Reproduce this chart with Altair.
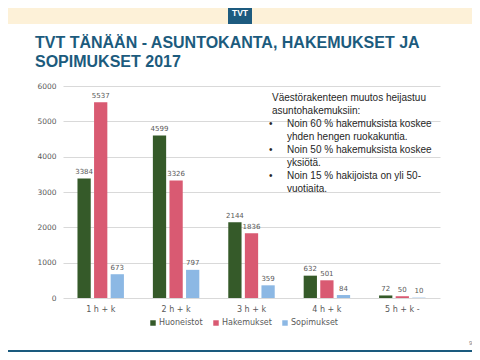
import altair as alt
import pandas as pd

categories = ["1 h + k", "2 h + k", "3 h + k", "4 h + k", "5 h + k -"]
series = ["Huoneistot", "Hakemukset", "Sopimukset"]
huoneistot = [3384, 4599, 2144, 632, 72]
hakemukset = [5537, 3326, 1836, 501, 50]
sopimukset = [673, 797, 359, 84, 10]
colors = ["#355A29", "#D95A72", "#8CB8E4"]
y_ticks = [0, 1000, 2000, 3000, 4000, 5000, 6000]

title_lines = ["TVT TÄNÄÄN - ASUNTOKANTA, HAKEMUKSET JA", "SOPIMUKSET 2017"]
intro_lines = ["Väestörakenteen muutos heijastuu", "asuntohakemuksiin:"]
bullet_lines = ["Noin 60 % hakemuksista koskee", "yhden hengen ruokakuntia.",
                "Noin 50 % hakemuksista koskee", "yksiötä.",
                "Noin 15 % hakijoista on yli 50-", "vuotiaita."]

rows = []
for s, vals in zip(series, [huoneistot, hakemukset, sopimukset]):
    for c, v in zip(categories, vals):
        rows.append({"Huoneisto": c, "Sarja": s, "Määrä": v})
df = pd.DataFrame(rows)

x_enc = alt.X("Huoneisto:N", sort=categories, title=None,
              scale=alt.Scale(paddingInner=0.34, paddingOuter=0.17),
              axis=alt.Axis(labelAngle=0, domain=False, ticks=False, labelPadding=7,
                            labelFont="DejaVu Sans", labelFontSize=8, labelColor="#595959"))
xo_enc = alt.XOffset("Sarja:N", sort=series, scale=alt.Scale(paddingInner=0.2, paddingOuter=0.1))
y_enc = alt.Y("Määrä:Q", title=None, scale=alt.Scale(domain=[0, 6000], nice=False),
              axis=alt.Axis(values=y_ticks, format="d", labelOverlap=False, domain=False,
                            ticks=False, labelPadding=7,
                            grid=True, gridColor="#D9D9D9", gridWidth=1,
                            labelFont="DejaVu Sans", labelFontSize=7.5, labelColor="#595959"))

base = alt.Chart(df)
bars = base.mark_bar().encode(
    x=x_enc, xOffset=xo_enc, y=y_enc,
    color=alt.Color("Sarja:N", sort=series, title=None,
                    scale=alt.Scale(domain=series, range=colors),
                    legend=alt.Legend(orient="none", legendX=86, legendY=233, direction="horizontal",
                                      symbolType="square", symbolSize=30, symbolStrokeWidth=0,
                                      labelFont="DejaVu Sans", labelFontSize=8, labelColor="#595959",
                                      columnPadding=9, labelOffset=2, title=None)),
)
labels = base.mark_text(baseline="alphabetic", dy=-4.5, font="DejaVu Sans", fontSize=7,
                        color="#595959").encode(
    x=x_enc, xOffset=xo_enc, y=y_enc, text="Määrä:Q")

one = alt.Data(values=[{"k": 0}])


def rect(x1, x2, y1, y2, color):
    return alt.Chart(one).mark_rect(color=color).encode(
        x=alt.value(x1), x2=alt.value(x2), y=alt.value(y1), y2=alt.value(y2))


def txt(lines, x, y, **kw):
    return alt.Chart(one).mark_text(align="left", baseline="alphabetic", **kw).encode(
        x=alt.value(x), y=alt.value(y), text=alt.value(lines))


top_band = rect(-63, 417, -86, -62, "#FDF1D8")
logo = rect(165, 189, -86, -62, "#1D5B7F")
logo_text = alt.Chart(one).mark_text(align="center", baseline="middle", font="Liberation Sans",
                                     fontWeight="bold", fontSize=8.5, color="white").encode(
    x=alt.value(177), y=alt.value(-73.5), text=alt.value("TVT"))
bottom_band = rect(-63, 417, 264, 280, "#1A5A7E")

title = txt(title_lines, -28, -38, font="Liberation Sans", fontWeight="bold", fontSize=16,
            lineHeight=18.5, color="#1C5B7D")
intro = txt(intro_lines, 209, 15, font="Liberation Sans", fontSize=10, lineHeight=13, color="#262626")
b_layers = []
for i in range(3):
    yb = 41 + i * 26
    b_layers.append(txt("•", 206, yb, font="Liberation Sans", fontSize=10, color="#262626"))
    b_layers.append(txt(bullet_lines[2 * i:2 * i + 2], 224, yb, font="Liberation Sans", fontSize=10,
                        lineHeight=13, color="#262626"))
page_no = txt("9", 406, 259, font="Liberation Sans", fontSize=6, color="#7F7F7F")

chart = alt.layer(top_band, logo, logo_text, bottom_band, title, intro, *b_layers, page_no,
                  bars, labels).properties(
    width=377, height=212,
    autosize=alt.AutoSizeParams(type="none"),
    padding={"left": 55, "top": 78, "right": 32, "bottom": 54},
    background="white",
).configure_view(stroke=None)

chart.save("out.html", embed_options={"renderer": "svg", "actions": False})
